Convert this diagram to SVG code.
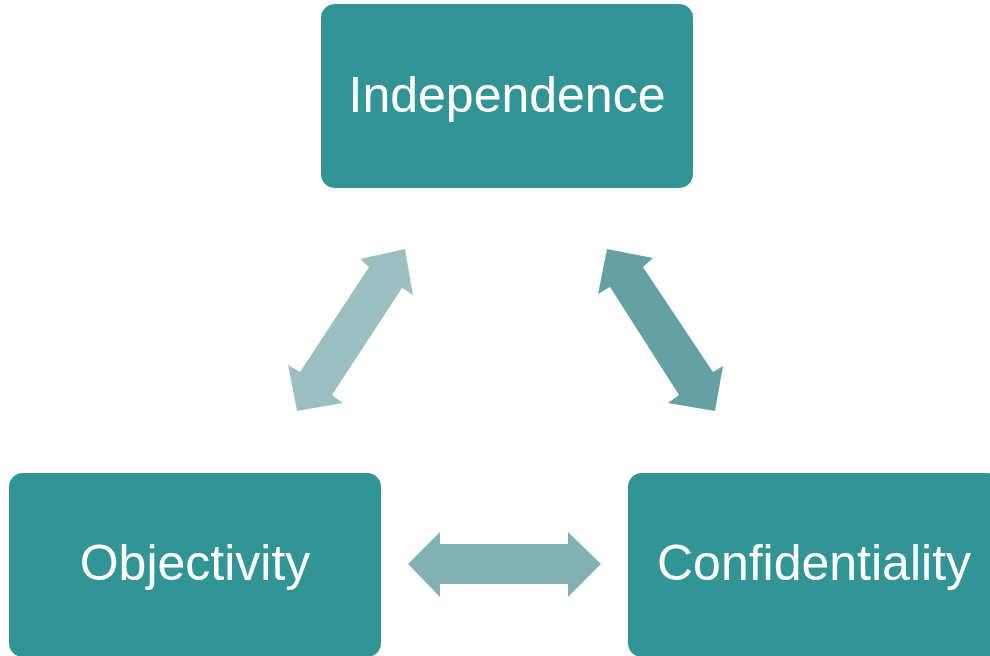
<svg xmlns="http://www.w3.org/2000/svg" width="990" height="656" viewBox="0 0 990 656">
<style>
.box{fill:#329494}
.lbl{font-family:"Liberation Sans",Arial,sans-serif;font-size:50px;fill:#ffffff;text-anchor:middle}
</style>
<rect width="990" height="656" fill="#ffffff"/>
<g id="connectors">
<polygon points="405,249 413,295 402,288 332,395 343,403 297,411 288,365 300,372 369,267 360,259" fill="#9CBFC2"/>
<polygon points="607,249 653,258 643,267 713,372 723,366 715,411 668,403 679,395 610,287 598,294" fill="#64A0A4"/>
<polygon points="408,564 440,532 440,544 568,544 568,532 601,564 568,597 568,584 440,584 440,597" fill="#82B1B3"/>
</g>
<g id="independence">
<rect class="box" x="321" y="4" width="372" height="184" rx="14"/>
<text class="lbl" x="507" y="112">Independence</text>
</g>
<g id="objectivity">
<rect class="box" x="9" y="473" width="372" height="184" rx="14"/>
<text class="lbl" x="195" y="580">Objectivity</text>
</g>
<g id="confidentiality">
<rect class="box" x="628" y="473" width="372" height="184" rx="14"/>
<text class="lbl" x="814" y="580">Confidentiality</text>
</g>
</svg>
